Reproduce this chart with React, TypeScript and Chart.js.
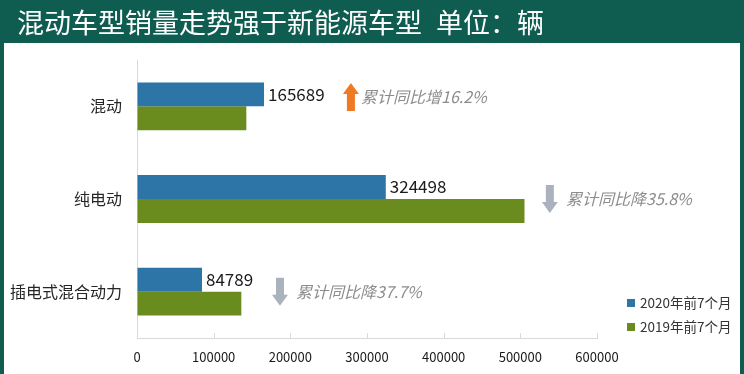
import React, { useEffect, useRef } from "react";
import { Chart, registerables } from "chart.js";

Chart.register(...registerables);

const titleMain = "混动车型销量走势强于新能源车型";
const titleUnit = "单位：辆";
const categories = ["混动", "纯电动", "插电式混合动力"];
const seriesNames = ["2020年前7个月", "2019年前7个月"];
const sales2020 = [165689, 324498, 84789];
const sales2019 = [142600, 505400, 136100];
const changeNotes = ["累计同比增16.2%", "累计同比降35.8%", "累计同比降37.7%"];
const changeUp = [true, false, false];
const arrowAt = [279000, 538500, 186500];
const noteAt = [292200, 559600, 207400];
const noteShift = [-0.1, 0, 0];
const xTicks = [0, 100000, 200000, 300000, 400000, 500000, 600000];

const FONT = '"Noto Sans CJK SC", "Noto Sans", sans-serif';
const TEAL = "#0f5c51";
const BLUE = "#2d74a7";
const GREEN = "#6a8c1e";
const GRID = "#d9d9d9";

function drawArrow(ctx: CanvasRenderingContext2D, cx: number, cy: number, up: boolean, color: string) {
  const h = 14;
  const s = up ? -1 : 1;
  ctx.save();
  ctx.fillStyle = color;
  ctx.beginPath();
  ctx.moveTo(cx, cy + s * h);
  ctx.lineTo(cx + 8, cy + s * 3);
  ctx.lineTo(cx + 4, cy + s * 3);
  ctx.lineTo(cx + 4, cy - s * h);
  ctx.lineTo(cx - 4, cy - s * h);
  ctx.lineTo(cx - 4, cy + s * 3);
  ctx.lineTo(cx - 8, cy + s * 3);
  ctx.closePath();
  ctx.fill();
  ctx.restore();
}

const decorPlugin = {
  id: "decor",
  beforeDraw(chart: any) {
    const { ctx, width, height } = chart;
    ctx.save();
    ctx.fillStyle = TEAL;
    ctx.fillRect(0, 0, width, height);
    ctx.fillStyle = "#ffffff";
    ctx.fillRect(4, 43, width - 8, height - 43);
    ctx.fillStyle = "#ffffff";
    ctx.font = `27px ${FONT}`;
    ctx.textBaseline = "middle";
    ctx.textAlign = "left";
    ctx.fillText(titleMain, 17, 23);
    const w = ctx.measureText(titleMain).width;
    ctx.fillText(titleUnit, 17 + w + 14, 23);
    ctx.restore();
  },
  afterDatasetsDraw(chart: any) {
    const { ctx } = chart;
    const xs = chart.scales.x;
    const ys = chart.scales.y;
    ctx.save();
    ctx.strokeStyle = GRID;
    ctx.lineWidth = 1;
    const yb = chart.chartArea.bottom;
    xTicks.forEach((v) => {
      const px = Math.round(xs.getPixelForValue(v)) + 0.5;
      ctx.beginPath();
      ctx.moveTo(px, yb);
      ctx.lineTo(px, yb - 5);
      ctx.stroke();
    });
    const meta = chart.getDatasetMeta(0);
    ctx.fillStyle = "#1a1a1a";
    ctx.font = `17px ${FONT}`;
    ctx.textBaseline = "middle";
    ctx.textAlign = "left";
    meta.data.forEach((bar: any, i: number) => {
      ctx.fillText(String(sales2020[i]), bar.x + 4, bar.y);
    });
    categories.forEach((_, i) => {
      const cy = ys.getPixelForValue(i + noteShift[i]);
      drawArrow(ctx, xs.getPixelForValue(arrowAt[i]), cy, changeUp[i], changeUp[i] ? "#ee7b24" : "#a9b2bd");
      ctx.fillStyle = "#8c8c8c";
      ctx.font = `italic 16px ${FONT}`;
      ctx.textBaseline = "middle";
      ctx.textAlign = "left";
      ctx.fillText(changeNotes[i], xs.getPixelForValue(noteAt[i]), cy);
    });
    const colors = [BLUE, GREEN];
    ctx.font = `13.5px ${FONT}`;
    seriesNames.forEach((name, i) => {
      const ly = 303 + i * 24;
      ctx.fillStyle = colors[i];
      ctx.fillRect(627, ly - 4, 8, 8);
      ctx.fillStyle = "#333333";
      ctx.fillText(name, 640, ly);
    });
    ctx.restore();
  },
};

export default function App() {
  const ref = useRef<HTMLCanvasElement | null>(null);
  useEffect(() => {
    if (!ref.current) return;
    const chart = new Chart(ref.current, {
      type: "bar",
      data: {
        labels: categories,
        datasets: [
          { label: seriesNames[0], data: sales2020, backgroundColor: BLUE, barPercentage: 1, categoryPercentage: 0.516 },
          { label: seriesNames[1], data: sales2019, backgroundColor: GREEN, barPercentage: 1, categoryPercentage: 0.516 },
        ],
      },
      options: {
        indexAxis: "y",
        responsive: false,
        animation: false,
        layout: { padding: { left: 0, right: 147, top: 60, bottom: 0 } },
        plugins: { legend: { display: false }, title: { display: false }, tooltip: { enabled: false } },
        scales: {
          x: {
            min: 0,
            max: 600000,
            afterFit: (s: any) => { s.height = 36; },
            afterBuildTicks: (s: any) => { s.ticks = xTicks.map((v) => ({ value: v })); },
            ticks: {
              color: "#1a1a1a",
              font: { family: FONT, size: 13 },
              padding: 11,
              maxRotation: 0,
              autoSkip: false,
              callback: (v: any) => String(v),
            },
            grid: { display: true, drawOnChartArea: false, drawTicks: false, color: "rgba(0,0,0,0)" },
            border: { display: true, color: GRID, width: 1 },
          },
          y: {
            afterFit: (s: any) => { s.width = 137; },
            ticks: { color: "#262626", font: { family: FONT, size: 16 }, padding: 15 },
            grid: { display: true, drawOnChartArea: false, drawTicks: false, color: "rgba(0,0,0,0)" },
            border: { display: true, color: GRID, width: 1 },
          },
        },
      },
      plugins: [decorPlugin],
    } as any);
    return () => chart.destroy();
  }, []);
  return (
    <div style={{ position: "fixed", left: 0, top: 0, width: 744, height: 374 }}>
      <canvas ref={ref} width={744} height={374} style={{ display: "block" }} />
    </div>
  );
}
